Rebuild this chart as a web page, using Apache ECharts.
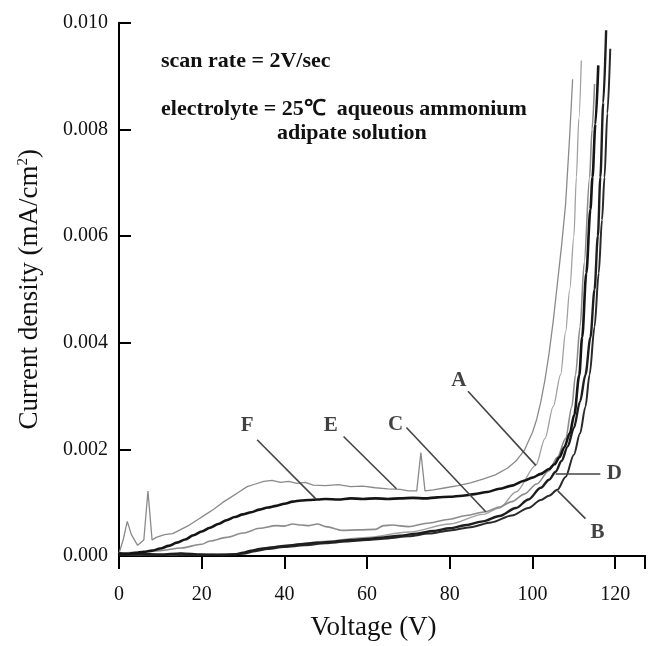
<!DOCTYPE html>
<html>
<head>
<meta charset="utf-8">
<script src="https://cdn.jsdelivr.net/npm/echarts@6/dist/echarts.min.js"></script>
<style>
html,body{margin:0;padding:0;background:#fff;}
#chart{width:648px;height:646px;}
</style>
</head>
<body>
<div id="chart"></div>
<script>
// ---- Data (Voltage in V, current density in mA/cm2) ----
const vE = [0,1,2,3,4.5,6,7,8,9,11,13,15,17,19,21,23,25,27,29,31,33,35,37,39,41,43,45,47,50,53,56,59,62,65,68,70,72,73,74,76,79,82,85,88,91,94,96,98,100,101,102,103,104,105,106,107,108,109,109.7];
const iE = [0.00005,0.0003,0.00065,0.0004,0.0002,0.0003,0.00122,0.0003,0.00035,0.0004,0.00042,0.0005,0.00058,0.00068,0.00078,0.00088,0.001,0.0011,0.0012,0.0013,0.00135,0.0014,0.00142,0.00138,0.0014,0.00136,0.00138,0.00133,0.00132,0.00134,0.0013,0.00131,0.00128,0.00126,0.00125,0.00122,0.00122,0.00194,0.00122,0.00124,0.00128,0.00132,0.00137,0.00144,0.00152,0.00165,0.00178,0.00198,0.00232,0.00256,0.00289,0.0033,0.0038,0.0044,0.0051,0.0058,0.0066,0.0079,0.00894];

const vF = [0,2,4,6,8,10,12,14,16,18,20,22,24,26,28,30,32,34,36,38,40,42,44,46,48,50,53,56,59,62,65,68,71,74,77,80,83,86,89,92,95,98,100,102,104,105.3,106.5,107.7,109,110.1,111.3,112,113,114,114.5,115.2,115.9];
const iF = [0.00005,0.00004,0.00006,0.00008,0.0001,0.00014,0.00019,0.00025,0.00031,0.00039,0.00046,0.00053,0.0006,0.00067,0.00073,0.00078,0.00082,0.00087,0.00091,0.00094,0.00098,0.00102,0.00104,0.00105,0.00106,0.00107,0.00106,0.00108,0.00107,0.00108,0.00107,0.00108,0.00109,0.00108,0.0011,0.00111,0.00113,0.00116,0.0012,0.00126,0.00132,0.00141,0.00147,0.00154,0.00163,0.00172,0.00185,0.00204,0.0023,0.00265,0.00339,0.0041,0.0053,0.0065,0.0071,0.0081,0.0092];

const vC = [0,5,10,15,20,22,26,30,34,38,40,42,44,46,48,50,54,58,62,64,66,70,75,80,84,88.7,92,95,98,101,104,106,108,109.5,110.4,111.5,112.5,113.8,114.4,115];
const iC = [0.00005,0.00007,0.0001,0.00015,0.00022,0.00028,0.00035,0.00043,0.00052,0.00057,0.00056,0.0006,0.00058,0.00057,0.0006,0.00055,0.00048,0.00049,0.0005,0.00057,0.00058,0.00055,0.00062,0.00069,0.00076,0.00083,0.00092,0.00102,0.00116,0.00135,0.0016,0.00185,0.0022,0.0028,0.0034,0.0043,0.0055,0.0071,0.008,0.00885];

const vA = [0,10,20,28,30,35,40,50,60,70,80,88,92,96,100.8,103,105,106.8,108,109,110,110.6,111.2,111.8];
const iA = [0.00002,0.00002,0.00003,0.00003,0.00005,0.00015,0.0002,0.00028,0.00035,0.00045,0.0006,0.00078,0.0009,0.0012,0.0017,0.0022,0.0028,0.0034,0.0042,0.005,0.006,0.0071,0.0082,0.00929];

const vD = [0,5,10,15,20,25,28,30,32,34,37,40,44,48,52,56,60,64,68,72,76,80,84,88,92,96,99,102,104,105.6,107,108.5,110,111.5,112.8,114,115,115.8,116.4,117.1,117.8];
const iD = [0.00003,0.00004,0.00003,0.00005,0.00003,0.00002,0.00003,0.00006,0.0001,0.00013,0.00016,0.00019,0.00022,0.00025,0.00027,0.0003,0.00032,0.00035,0.00038,0.00042,0.00047,0.00052,0.00058,0.00065,0.00075,0.0009,0.00106,0.00128,0.00143,0.00158,0.00178,0.00205,0.0024,0.0029,0.0034,0.0041,0.005,0.006,0.0071,0.0085,0.00986];

const vB = [0,5,10,15,20,25,30,33,36,40,45,50,55,60,65,70,75,80,85,90,95,99,102,104,106,108,110,111.5,112.8,113.8,115,116,116.8,117.4,118.1,118.8];
const iB = [0.00002,0.00003,0.00002,0.00004,0.00002,0.00003,0.00004,0.00009,0.00013,0.00017,0.0002,0.00024,0.00027,0.0003,0.00033,0.00037,0.00042,0.00048,0.00054,0.00063,0.00076,0.0009,0.00105,0.00113,0.00124,0.00148,0.0019,0.0023,0.0028,0.0034,0.0043,0.0053,0.0063,0.0071,0.0083,0.00951];

// Curve labels: name, text position (V, I), leader start (V, I), leader end (V, I)
const labelNames = ['F','E','C','A','D','B'];
const labelPos   = [[31.0,0.00244],[51.2,0.00244],[66.9,0.00246],[82.2,0.00328],[119.8,0.00155],[115.7,0.00043]];
const leaderFrom = [[33.4,0.00218],[54.3,0.00224],[69.5,0.00241],[84.4,0.00309],[105.6,0.00155],[106.1,0.00122]];
const leaderTo   = [[47.6,0.00107],[67.1,0.00126],[88.7,0.00083],[100.8,0.0017],[116.4,0.00155],[112.8,0.0007]];

const xTickValues = [0,20,40,60,80,100,120];
const yTickValues = [0,0.002,0.004,0.006,0.008,0.010];

const zip = (xs, ys) => xs.map((x, i) => [x, ys[i]]);
const SERIF = '"Liberation Serif", "Times New Roman", serif';

const chart = echarts.init(document.getElementById('chart'), null, {renderer: 'canvas'});

function curve(name, xs, ys, color, width, smooth) {
  return {
    name, type: 'line', data: zip(xs, ys), showSymbol: false, symbol: 'none',
    smooth: smooth, smoothMonotone: 'x',
    lineStyle: {color, width}, z: 3, silent: true
  };
}

const annFont = 'bold 22px ' + SERIF;

const option = {
  animation: false,
  backgroundColor: '#fff',
  grid: {left: 119, top: 22.7, right: 0, bottom: 83, containLabel: false},
  xAxis: [{
    type: 'value', min: 0, max: 127.2, interval: 20,
    axisLine: {show: true, onZero: false, lineStyle: {color: '#000', width: 2}},
    axisTick: {show: true, inside: false, length: 13, lineStyle: {color: '#000', width: 2}},
    axisLabel: {
      margin: 29, color: '#111', fontFamily: SERIF, fontSize: 20,
      formatter: v => xTickValues.includes(v) ? String(v) : ''
    },
    splitLine: {show: false},
    name: 'Voltage (V)', nameLocation: 'middle', nameGap: 58,
    nameTextStyle: {fontFamily: SERIF, fontSize: 27, color: '#111', padding: [0, 17, 0, 0]}
  }, {
    type: 'value', position: 'top', min: 0, max: 127.2,
    axisLine: {show: true, lineStyle: {color: '#000', width: 2}},
    axisTick: {show: false}, axisLabel: {show: false}, splitLine: {show: false}
  }],
  yAxis: [{
    type: 'value', min: 0, max: 0.010, interval: 0.002,
    axisLine: {show: true, lineStyle: {color: '#000', width: 2}},
    axisTick: {show: true, inside: true, length: 12, lineStyle: {color: '#000', width: 2}},
    axisLabel: {
      margin: 11, color: '#111', fontFamily: SERIF, fontSize: 20,
      formatter: v => v.toFixed(3)
    },
    splitLine: {show: false},
    name: 'Current density (mA/cm{sup|2})', nameLocation: 'middle', nameGap: 76,
    nameTextStyle: {
      fontFamily: SERIF, fontSize: 27, color: '#111',
      rich: {sup: {fontFamily: SERIF, fontSize: 15, verticalAlign: 'top', padding: [0,0,11,0], color: '#111'}}
    }
  }],
  graphic: [
    {type: 'text', x: 161, y: 61, style: {text: 'scan rate = 2V/sec', font: annFont, fill: '#111', verticalAlign: 'middle'}},
    {type: 'text', x: 161, y: 109, style: {text: 'electrolyte = 25℃  aqueous ammonium', font: annFont, fill: '#111', verticalAlign: 'middle'}},
    {type: 'text', x: 277, y: 133, style: {text: 'adipate solution', font: annFont, fill: '#111', verticalAlign: 'middle'}}
  ],
  series: [
    curve('E', vE, iE, '#8a8a8a', 1.3, false),
    curve('A', vA, iA, '#a0a0a0', 1.3, 0.3),
    curve('C', vC, iC, '#8c8c8c', 1.6, 0.3),
    curve('B', vB, iB, '#2a2a2a', 2.0, 0.3),
    curve('D', vD, iD, '#1e1e1e', 2.4, 0.3),
    curve('F', vF, iF, '#151515', 2.6, 0.3),
    {
      name: 'leaders', type: 'lines', coordinateSystem: 'cartesian2d', silent: true, z: 4,
      lineStyle: {color: '#444', width: 1.6, opacity: 1},
      data: leaderFrom.map((p, i) => ({coords: [p, leaderTo[i]]}))
    },
    {
      name: 'labels', type: 'scatter', symbolSize: 0, silent: true, z: 5,
      data: labelPos.map((p, i) => ({value: p, name: labelNames[i]})),
      label: {show: true, position: 'inside', formatter: p => p.name,
        fontFamily: SERIF, fontWeight: 'bold', fontSize: 21, color: '#111'}
    }
  ]
};
chart.setOption(option);
</script>
</body>
</html>
